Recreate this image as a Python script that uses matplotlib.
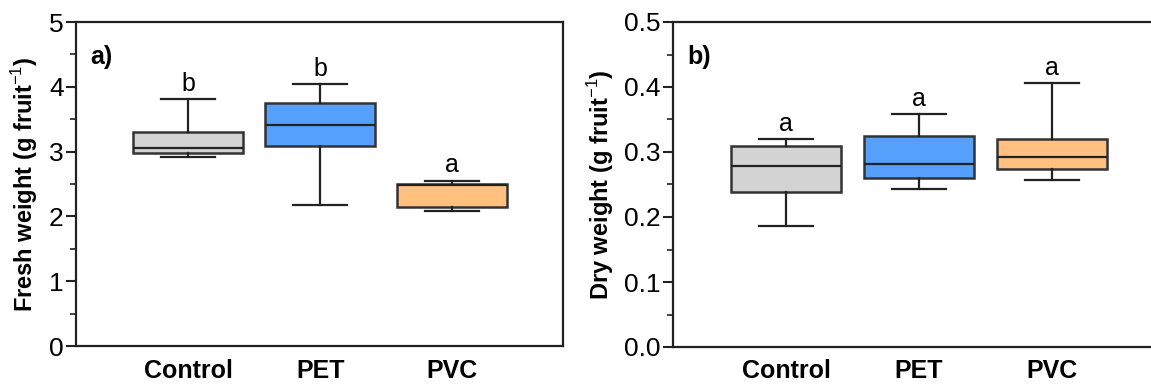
import matplotlib
matplotlib.use('Agg')
import matplotlib.pyplot as plt
from matplotlib.ticker import MultipleLocator

plt.rcParams['font.family'] = ['Liberation Sans', 'DejaVu Sans']
plt.rcParams['mathtext.fontset'] = 'custom'
plt.rcParams['mathtext.rm'] = 'Liberation Sans'
plt.rcParams['mathtext.bf'] = 'Liberation Sans:bold'

# Data
groups = ['Control', 'PET', 'PVC']
colors = ['#D3D3D3', '#55A0FB', '#FFC080']

# fresh weight (g fruit-1)
fresh_whislo = [2.91, 2.18, 2.08]
fresh_q1 = [2.98, 3.09, 2.15]
fresh_med = [3.06, 3.41, 2.49]
fresh_q3 = [3.30, 3.75, 2.50]
fresh_whishi = [3.81, 4.04, 2.55]
fresh_letters = ['b', 'b', 'a']

# dry weight (g fruit-1)
dry_whislo = [0.186, 0.243, 0.257]
dry_q1 = [0.239, 0.260, 0.274]
dry_med = [0.278, 0.282, 0.292]
dry_q3 = [0.309, 0.325, 0.320]
dry_whishi = [0.320, 0.358, 0.406]
dry_letters = ['a', 'a', 'a']


def make_stats(lo, q1, med, q3, hi):
    return [dict(whislo=a, q1=b, med=c, q3=d, whishi=e, fliers=[])
            for a, b, c, d, e in zip(lo, q1, med, q3, hi)]


def draw_panel(ax, stats, letters, ylim, major, minor, ylabel, tag, xlim):
    line = dict(color='#222222', linewidth=1.6)
    bp = ax.bxp(stats, positions=[1, 2, 3], widths=0.83, patch_artist=True,
                showfliers=False, boxprops=dict(edgecolor='#333333', linewidth=1.8),
                medianprops=dict(color='#222222', linewidth=1.6),
                whiskerprops=line, capprops=line, capwidths=0.41)
    for patch, c in zip(bp['boxes'], colors):
        patch.set_facecolor(c)
    for i, (s, lab) in enumerate(zip(stats, letters)):
        ax.annotate(lab, (i + 1, s['whishi']), xytext=(0, 6), textcoords='offset points',
                    ha='center', va='baseline', fontsize=18)
    ax.set_ylim(*ylim)
    ax.set_xlim(*xlim)
    ax.yaxis.set_major_locator(MultipleLocator(major))
    ax.yaxis.set_minor_locator(MultipleLocator(minor))
    ax.tick_params(axis='y', which='major', direction='out', length=7, width=1.5,
                   labelsize=19, color='#222222', pad=2)
    ax.tick_params(axis='y', which='minor', direction='out', length=4, width=1.2,
                   color='#222222')
    ax.tick_params(axis='x', length=0, pad=9)
    ax.set_xticks([1, 2, 3])
    ax.set_xticklabels(groups, fontsize=18, fontweight='bold')
    ax.set_ylabel(ylabel, fontsize=17, fontweight='bold', labelpad=6)
    ax.text(0.03, 0.93, tag, transform=ax.transAxes, fontsize=18,
            fontweight='bold', va='top')
    for sp in ax.spines.values():
        sp.set_linewidth(1.6)
        sp.set_color('#222222')


fig = plt.figure(figsize=(11.51, 3.84), dpi=100)
ax1 = fig.add_axes([76 / 1151, 38 / 384, 487 / 1151, 324 / 384])
ax2 = fig.add_axes([673 / 1151, 37 / 384, 480 / 1151, 325 / 384])

draw_panel(ax1, make_stats(fresh_whislo, fresh_q1, fresh_med, fresh_q3, fresh_whishi),
           fresh_letters, (0, 5), 1, 0.5, 'Fresh weight (g fruit$^{\\mathrm{-1}}$)',
           'a)', (0.15, 3.84))
draw_panel(ax2, make_stats(dry_whislo, dry_q1, dry_med, dry_q3, dry_whishi),
           dry_letters, (0, 0.5), 0.1, 0.05, 'Dry weight (g fruit$^{\\mathrm{-1}}$)',
           'b)', (0.15, 3.76))
ax2.yaxis.set_major_formatter(plt.FormatStrFormatter('%.1f'))
ax2.spines['right'].set_visible(False)

fig.savefig('out.png', dpi=100)
